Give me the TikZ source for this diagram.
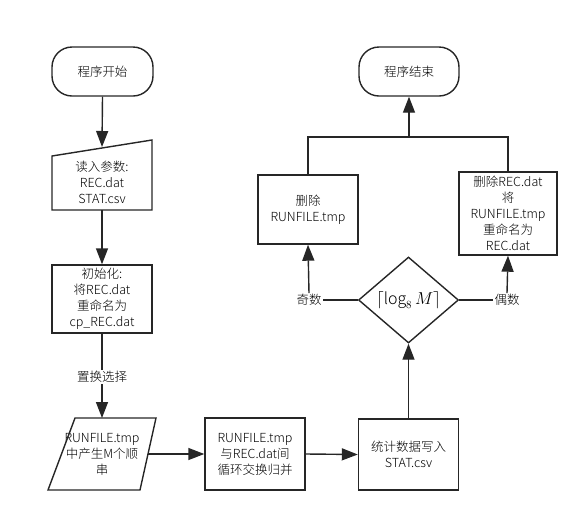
\documentclass[tikz,border=0pt]{standalone}
\usepackage{fontspec}
\setmainfont{Noto Sans CJK SC}[UprightFont={* Light}]
\usetikzlibrary{arrows.meta,shapes.geometric}
\tikzset{
  base/.style={draw=none, align=center, font=\fontsize{12.5}{16}\selectfont, inner sep=0pt},
  outline/.style={draw=black!85, line width=1.4pt},
  tipstyle/.tip={Triangle[length=16pt,width=12pt]},
  conn/.style={draw=black!85, line width=1.4pt, -tipstyle},
  plain/.style={draw=black!85, line width=1.4pt},
  lbl/.style={font=\fontsize{12.5}{16}\selectfont, fill=white, inner sep=1pt}
}
\begin{document}
\begin{tikzpicture}[x=1pt,y=-1pt]
\useasboundingbox (0,0) rectangle (587,523);
% start terminal
\node[base, outline, rounded corners=20pt, minimum width=101pt, minimum height=49pt] (start) at (102.5,71.5) {程序开始};
% manual input
\node[base] (inp) at (102,182) {读入参数:\\REC.dat\\STAT.csv};
\coordinate (inTL) at (52,156);
\coordinate (inTR) at (152,140);
\coordinate (inBR) at (152,210);
\coordinate (inBL) at (52,210);
\draw[outline] (inTL) -- (inTR) -- (inBR) -- (inBL) -- cycle;
\coordinate (inTop) at (102,147);
% init box
\node[base, outline, minimum width=100pt, minimum height=68pt] (init) at (102,299) {初始化:\\将REC.dat\\重命名为\\cp\_REC.dat};
% parallelogram
\node[base] (par) at (102,454) {RUNFILE.tmp\\中产生M个顺\\串};
\coordinate (pTL) at (75,418);
\coordinate (pTR) at (156,418);
\coordinate (pBR) at (140,490);
\coordinate (pBL) at (48,490);
\draw[outline] (pTL) -- (pTR) -- (pBR) -- (pBL) -- cycle;
\coordinate (pTop) at (102,418);
\coordinate (pRight) at (148,454);
% merge box
\node[base, outline, minimum width=100pt, minimum height=72pt] (merge) at (255,454) {RUNFILE.tmp\\与REC.dat间\\循环交换归并};
% stats box
\node[base, outline, minimum width=100pt, minimum height=71pt] (stat) at (408.5,454.5) {统计数据写入\\STAT.csv};
% diamond
\node[outline, diamond, minimum width=100pt, minimum height=86pt, inner sep=0pt] (dec) at (408.5,300) {};
\node[font=\fontsize{16}{18}\selectfont] (dectext) at (408.5,300) {$\lceil \log_8 M \rceil$};
% labels
\node[lbl] (odd) at (309,300) {奇数};
\node[lbl] (even) at (507,300) {偶数};
% delete box
\node[base, outline, minimum width=100pt, minimum height=69pt] (del) at (308,209.5) {删除\\RUNFILE.tmp};
% rename box
\node[base, outline, minimum width=98pt, minimum height=83pt] (ren) at (508,213.5) {删除REC.dat\\将\\RUNFILE.tmp\\重命名为\\REC.dat};
% end terminal
\node[base, outline, rounded corners=20pt, minimum width=100pt, minimum height=49pt] (end) at (409,71.5) {程序结束};
\coordinate (jL) at (308,137);
\coordinate (jR) at (508,137);
\coordinate (jM) at (409,137);
% connectors
\draw[conn] (start.south) -- (inTop);
\draw[conn] (inBL -| inp) -- (init.north);
\draw[conn] (init.south) -- (pTop);
\node[lbl] (swap) at (102,377) {置换选择};
\draw[conn] (pRight) -- (merge.west);
\draw[conn] (merge.east) -- (stat.west);
\draw[conn] (stat.north) -- (dec.south);
\draw[plain] (dec.west) -- (odd.east);
\draw[plain] (dec.east) -- (even.west);
\draw[conn] (odd.north) -- (del.south);
\draw[conn] (even.north) -- (ren.south);
\draw[plain] (del.north) -- (jL) -- (jR) -- (ren.north);
\draw[conn] (jM) -- (end.south);
\end{tikzpicture}
\end{document}
